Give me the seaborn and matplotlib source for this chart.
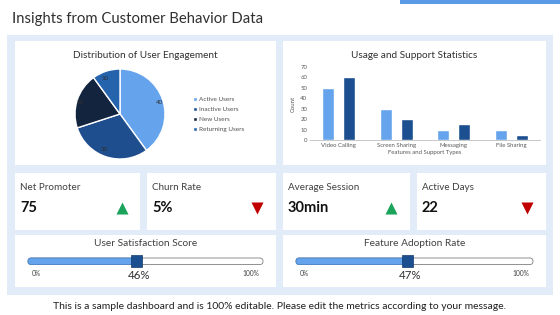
import matplotlib
matplotlib.use("Agg")
import numpy as np
import pandas as pd
import seaborn as sns
import matplotlib.pyplot as plt
from matplotlib.patches import Rectangle, FancyBboxPatch

# data
segments = ["Active Users", "Inactive Users", "New Users", "Returning Users"]
shares = [40, 30, 20, 10]

features = ["Video Calling", "Screen Sharing", "Messaging", "File Sharing"]
usage = [50, 30, 10, 10]
support = [60, 20, 15, 5]

kpi_labels = ["Net Promoter", "Churn Rate", "Average Session", "Active Days"]
kpi_values = ["75", "5%", "30min", "22"]
kpi_up = [True, False, True, False]

slider_titles = ["User Satisfaction Score", "Feature Adoption Rate"]
slider_values = [46, 47]

sns.set_theme(style="white")
plt.rcParams["font.family"] = ["Lato", "DejaVu Sans"]

W, H = 560, 315
LIGHT = "#65a3ec"
DARK = "#1c4f8f"
PIE_COLORS = ["#65a3ec", "#1f4e8f", "#13243f", "#2563ad"]
BG = "#e2ecf8"
TXT = "#404040"


def box(x0, y0, x1, y1):
    # pixel box (top-left origin) -> figure fraction rect
    return [x0 / W, 1 - y1 / H, (x1 - x0) / W, (y1 - y0) / H]


fig = plt.figure(figsize=(W / 100, H / 100), dpi=100)
bg = fig.add_axes([0, 0, 1, 1])
bg.set_xlim(0, W)
bg.set_ylim(H, 0)
bg.axis("off")

# header
bg.add_patch(Rectangle((400, 0), 160, 4, color="#5b9ae6", lw=0))
bg.text(12, 19, "Insights from Customer Behavior Data", fontsize=10.7,
        color="#303030", va="center", ha="left")

# light panel and white cards
bg.add_patch(Rectangle((7, 35), 546, 260, color=BG, lw=0))
for x0, y0, x1, y1 in [(15, 41, 276, 165), (283, 41, 546, 165),
                       (15, 173, 140, 230), (147, 173, 276, 230),
                       (283, 173, 410, 230), (417, 173, 546, 230),
                       (15, 235, 276, 287), (283, 235, 546, 287)]:
    bg.add_patch(Rectangle((x0, y0), x1 - x0, y1 - y0, color="white", lw=0))

# pie chart
bg.text(145.5, 55, "Distribution of User Engagement", fontsize=7.2,
        color="#303030", ha="center", va="center")
pax = fig.add_axes(box(75, 69, 165, 159))
wedges, texts = pax.pie(shares, colors=PIE_COLORS, startangle=90,
                        counterclock=False, labels=[str(v) for v in shares],
                        labeldistance=0.84, radius=1,
                        textprops=dict(fontsize=4.5, color="#303030"))
pax.set_aspect("equal")
pax.set_xlim(-1, 1)
pax.set_ylim(-1, 1)
pax.legend(wedges, segments, loc="upper left",
           bbox_to_anchor=(190 / W, 1 - 94 / H),
           bbox_transform=fig.transFigure, frameon=False, fontsize=4.6,
           handlelength=0.55, handleheight=0.55, handletextpad=0.3,
           labelspacing=0.75, labelcolor="#505050", borderpad=0)

# bar chart
bg.text(414.5, 55, "Usage and Support Statistics", fontsize=7.2,
        color="#303030", ha="center", va="center")
df = pd.DataFrame({
    "Features and Support Types": features * 2,
    "Count": usage + support,
    "Series": ["Usage"] * len(features) + ["Support"] * len(features),
})
bax = fig.add_axes(box(310, 67, 540, 140))
sns.barplot(data=df, x="Features and Support Types", y="Count", hue="Series",
            palette=[LIGHT, DARK], saturation=1, width=0.74, gap=0.43,
            legend=False, ax=bax)
bax.set_ylim(0, 70)
bax.set_yticks(range(0, 71, 10))
bax.set_xlim(-0.5, 3.5)
sns.despine(ax=bax, left=True)
bax.spines["bottom"].set_color("#bfbfbf")
bax.spines["bottom"].set_linewidth(0.6)
bax.tick_params(axis="both", labelsize=4.3, colors="#595959", length=0, pad=2)
bax.set_xlabel("Features and Support Types", fontsize=4.3, color="#595959",
               labelpad=1.5)
bax.set_ylabel("Count", fontsize=4.3, color="#595959", labelpad=3)

# KPI cards
kpi_x = [20, 152, 288, 422]
tri_x = [122, 257, 391, 527]
for lab, val, up, x, tx in zip(kpi_labels, kpi_values, kpi_up, kpi_x, tri_x):
    bg.text(x, 188, lab, fontsize=7.1, color=TXT, va="center")
    bg.text(x, 208.5, val, fontsize=10.5, fontweight="bold", color="#111111",
            va="center")
    bg.scatter([tx], [208], marker="^" if up else "v", s=75,
               color="#1aa35a" if up else "#c00000", lw=0)

# sliders
for (x0, x1), title, val in zip([(15, 276), (283, 546)], slider_titles,
                                slider_values):
    cx = (x0 + x1) / 2
    t0, t1 = x0 + 13, x1 - 13
    tw = t1 - t0
    bg.text(cx, 243.5, title, fontsize=7.3, color=TXT, ha="center",
            va="center")
    bg.add_patch(FancyBboxPatch((t0, 258), tw, 6.5,
                                boxstyle="round,pad=0,rounding_size=3.2",
                                fc="white", ec="#7f7f7f", lw=0.6))
    hx = t0 + tw * val / 100
    bg.add_patch(FancyBboxPatch((t0, 258), hx - t0, 6.5,
                                boxstyle="round,pad=0,rounding_size=3.2",
                                fc=LIGHT, ec="#4a86c8", lw=0.6))
    bg.add_patch(Rectangle((hx - 5.5, 255), 11, 12, fc=DARK, ec="#123a6b",
                           lw=0.5))
    bg.text(t0 + 8, 273, "0%", fontsize=4.8, color=TXT, ha="center",
            va="center")
    bg.text(t1 - 12, 273, "100%", fontsize=4.8, color=TXT, ha="center",
            va="center")
    bg.text(hx + 3, 275.5, f"{val}%", fontsize=8.3, color="#303030",
            ha="center", va="center")

# footer
bg.text(280, 306.5, "This is a sample dashboard and is 100% editable. "
        "Please edit the metrics according to your message.",
        fontsize=7.5, color="#202020", ha="center", va="center")

fig.savefig("out.png", dpi=100)
